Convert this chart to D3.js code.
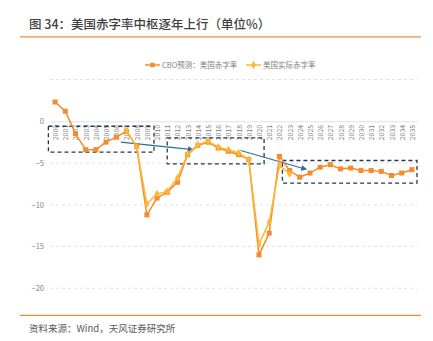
<!DOCTYPE html>
<html>
<head>
<meta charset="utf-8">
<script src="https://cdn.jsdelivr.net/npm/d3@7"></script>
<style>
  body { margin: 0; background: #fff; }
  svg text { font-family: "Noto Sans CJK SC", "Noto Sans", sans-serif; }
</style>
</head>
<body>
<div id="chart"></div>
<script>
// years on the category axis
var years = d3.range(2000, 2036).map(String);

// CBO projection of the US deficit ratio (% of GDP)
var cboDeficit = [2.3, 1.2, -1.5, -3.4, -3.4, -2.5, -1.9, -1.2, -3.0, -11.2,
  -9.2, -8.5, -7.3, -4.0, -2.9, -2.5, -3.2, -3.6, -4.0, -4.6,
  -16.0, -13.4, -4.2, -5.9, -6.7, -6.2, -5.5, -5.2, -5.7, -5.6,
  -5.9, -5.9, -6.0, -6.5, -6.2, -5.8];

// actual deficit ratio, 2007-2023
var actualYears = d3.range(2007, 2024).map(String);
var actualDeficit = [-1.1, -3.1, -9.9, -8.7, -8.4, -6.8, -3.9, -2.8, -2.4, -3.1,
  -3.4, -3.8, -4.6, -14.7, -12.1, -5.3, -6.3];

var yTicks = [0, -5, -10, -15, -20];
var gridValues = [5, -5, -10, -15, -20];

var svgWidth = 433;
var svgHeight = 341;

var orange = "#f58b2c";
var yellow = "#fdb732";
var navy = "#1f3a55";
var arrowBlue = "#2f6e99";

var svg = d3.select("#chart")
  .append("svg")
  .attr("width", svgWidth)
  .attr("height", svgHeight);

// title block
svg.append("text")
  .attr("x", 29)
  .attr("y", 29)
  .attr("font-size", 12.5)
  .attr("font-weight", 500)
  .attr("fill", "#3f3f3f")
  .text("图 34：美国赤字率中枢逐年上行（单位%）");

svg.append("line")
  .attr("x1", 20).attr("x2", 421)
  .attr("y1", 36.8).attr("y2", 36.8)
  .attr("stroke", "#f08a3a")
  .attr("stroke-width", 1.2);

// footer
svg.append("line")
  .attr("x1", 20).attr("x2", 421)
  .attr("y1", 315.3).attr("y2", 315.3)
  .attr("stroke", "#f08a3a")
  .attr("stroke-width", 1.2);

svg.append("text")
  .attr("x", 29)
  .attr("y", 332)
  .attr("font-size", 9.5)
  .attr("fill", "#595959")
  .text("资料来源：Wind，天风证券研究所");

// scales
var xScale = d3.scalePoint()
  .domain(years)
  .range([50, 417])
  .padding(0.5);

var yScale = d3.scaleLinear()
  .domain([-20, 5])
  .range([288.3, 79.5]);

// gridlines
svg.append("g")
  .selectAll("line")
  .data(gridValues)
  .enter()
  .append("line")
  .attr("x1", 50).attr("x2", 417)
  .attr("y1", d => yScale(d)).attr("y2", d => yScale(d))
  .attr("stroke", "#d9d9d9")
  .attr("stroke-width", 0.8)
  .attr("stroke-dasharray", "3,3");

// y axis labels
var leftAxis = d3.axisLeft(yScale)
  .tickValues(yTicks)
  .tickSize(0)
  .tickPadding(6)
  .tickFormat(d3.format("d"));

var yAxis = svg.append("g")
  .attr("transform", "translate(50,0)")
  .call(leftAxis);
yAxis.select(".domain").remove();
yAxis.selectAll("text")
  .attr("font-size", 7.5)
  .attr("fill", "#7f7f7f");

// x axis sits on the zero line, labels rotated
var bottomAxis = d3.axisBottom(xScale).tickSize(0);

var xAxis = svg.append("g")
  .attr("transform", `translate(0, ${yScale(0)})`)
  .call(bottomAxis);
xAxis.select(".domain")
  .attr("stroke", "#d9d9d9")
  .attr("stroke-width", 0.8);
xAxis.selectAll("text")
  .attr("font-size", 7)
  .attr("fill", "#7f7f7f")
  .attr("text-anchor", "end")
  .attr("dy", null)
  .attr("y", 0)
  .attr("transform", "translate(2.5, 3.5) rotate(-90)");

// dashed annotation boxes: [from index, to index, top value, bottom value]
var boxes = [
  [-0.66, 9.7, -0.6, -3.7],
  [11, 20.5, -2.0, -5.1],
  [22.3, 35.5, -4.7, -7.4]
];
var step = xScale.step();
var x0 = xScale(years[0]);

svg.append("g")
  .selectAll("rect")
  .data(boxes)
  .enter()
  .append("rect")
  .attr("x", d => x0 + d[0] * step)
  .attr("y", d => yScale(d[2]))
  .attr("width", d => (d[1] - d[0]) * step)
  .attr("height", d => yScale(d[3]) - yScale(d[2]))
  .attr("fill", "none")
  .attr("stroke", navy)
  .attr("stroke-width", 1.3)
  .attr("stroke-dasharray", "4,3");

// trend arrows: [from index, from value, to index, to value]
var arrows = [
  [6.45, -2.5, 13.5, -3.4],
  [18.2, -3.5, 24.6, -5.75]
];

svg.append("defs")
  .append("marker")
  .attr("id", "arrowHead")
  .attr("viewBox", "0 0 10 10")
  .attr("refX", 8)
  .attr("refY", 5)
  .attr("markerWidth", 5)
  .attr("markerHeight", 5)
  .attr("orient", "auto")
  .append("path")
  .attr("d", "M0,0 L10,5 L0,10 z")
  .attr("fill", arrowBlue);

svg.append("g")
  .selectAll("line")
  .data(arrows)
  .enter()
  .append("line")
  .attr("x1", d => x0 + d[0] * step)
  .attr("y1", d => yScale(d[1]))
  .attr("x2", d => x0 + d[2] * step)
  .attr("y2", d => yScale(d[3]))
  .attr("stroke", arrowBlue)
  .attr("stroke-width", 1.2)
  .attr("marker-end", "url(#arrowHead)");

// series
var line = d3.line()
  .x(d => xScale(d[0]))
  .y(d => yScale(d[1]));

var cboData = years.map((y, i) => [y, cboDeficit[i]]);
var actualData = actualYears.map((y, i) => [y, actualDeficit[i]]);

svg.append("path")
  .datum(cboData)
  .attr("d", line)
  .attr("fill", "none")
  .attr("stroke", orange)
  .attr("stroke-width", 1.5);

svg.append("g")
  .selectAll("rect")
  .data(cboData)
  .enter()
  .append("rect")
  .attr("x", d => xScale(d[0]) - 2.5)
  .attr("y", d => yScale(d[1]) - 2.5)
  .attr("width", 5)
  .attr("height", 5)
  .attr("fill", orange);

svg.append("path")
  .datum(actualData)
  .attr("d", line)
  .attr("fill", "none")
  .attr("stroke", yellow)
  .attr("stroke-width", 1.5);

var diamond = d3.symbol().type(d3.symbolDiamond).size(20);

svg.append("g")
  .selectAll("path")
  .data(actualData)
  .enter()
  .append("path")
  .attr("d", diamond)
  .attr("transform", d => `translate(${xScale(d[0])},${yScale(d[1])})`)
  .attr("fill", yellow);

// legend
var legendItems = [
  { label: "CBO预测：美国赤字率", color: orange, shape: "square", x: 145 },
  { label: "美国实际赤字率", color: yellow, shape: "diamond", x: 246 }
];

var legend = svg.append("g")
  .selectAll("g")
  .data(legendItems)
  .enter()
  .append("g")
  .attr("transform", d => `translate(${d.x}, 65)`);

legend.append("line")
  .attr("x1", 0).attr("x2", 15)
  .attr("stroke", d => d.color)
  .attr("stroke-width", 1.5);

legend.append("path")
  .attr("d", d => d.shape === "square"
    ? d3.symbol().type(d3.symbolSquare).size(20)()
    : diamond())
  .attr("transform", "translate(7.5,0)")
  .attr("fill", d => d.color);

legend.append("text")
  .attr("x", 17)
  .attr("y", 2.8)
  .attr("font-size", 7.5)
  .attr("fill", "#7f7f7f")
  .text(d => d.label);
</script>
</body>
</html>
